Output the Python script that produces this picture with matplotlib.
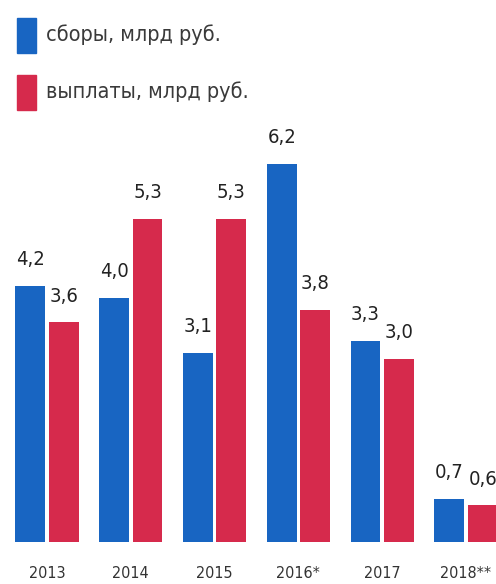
import matplotlib
matplotlib.use("Agg")
import matplotlib.pyplot as plt
from matplotlib.patches import Rectangle
from matplotlib import font_manager as fm
import numpy as np

years = ["2013", "2014", "2015", "2016*", "2017", "2018**"]
sbory = [4.2, 4.0, 3.1, 6.2, 3.3, 0.7]
vyplaty = [3.6, 5.3, 5.3, 3.8, 3.0, 0.6]
legend_labels = ["сборы, млрд руб.", "выплаты, млрд руб."]

BLUE = "#1865c2"
RED = "#d62a4c"
TXT = "#333333"

# choose a condensed face if available
fp_c = fm.FontProperties(family="DejaVu Sans", stretch="condensed")
path = fm.findfont(fp_c, fallback_to_default=False)
if "Condensed" in path:
    fam = ["DejaVu Sans"]
    stretch = "condensed"
    k = 1.0
else:
    fam = ["Roboto", "DejaVu Sans"]
    stretch = "normal"
    k = 0.9

W, H = 496, 584
fig = plt.figure(figsize=(W / 100, H / 100), dpi=100)
base_px = 542
ax = fig.add_axes([0, (H - base_px) / H, 1, base_px / H])
ppu = 61.0
ax.set_ylim(0, base_px / ppu)
x0, sp = 47, 83.8
ax.set_xlim(-x0 / sp, (W - x0) / sp)

x = np.arange(len(years))
bw = 0.355
off = 0.2
ax.bar(x - off, sbory, bw, color=BLUE)
ax.bar(x + off, vyplaty, bw, color=RED)

for i in range(len(years)):
    for val, dx in ((sbory[i], -off), (vyplaty[i], off)):
        ax.annotate(f"{val:.1f}".replace(".", ","), (x[i] + dx, val),
                    xytext=(0, 15), textcoords="offset points", ha="center",
                    va="baseline", fontsize=14.5 * k, color="#222222", family=fam,
                    fontstretch=stretch, annotation_clip=False)
    ax.text(x[i], -0.52, years[i], ha="center", va="center", fontsize=11.5 * k,
            color=TXT, family=fam, fontstretch=stretch, clip_on=False)

ax.axis("off")

# legend
for j, (col, lab) in enumerate(zip([BLUE, RED], legend_labels)):
    top = 18 + j * 57
    fig.patches.append(Rectangle((17 / W, 1 - (top + 35) / H), 19 / W, 35 / H,
                                 transform=fig.transFigure, color=col))
    fig.text(46 / W, 1 - (top + 17) / H, lab, ha="left", va="center",
             fontsize=15.5 * k, color="#3a3a3a", family=fam, fontstretch=stretch)

fig.savefig("out.png", dpi=100)
